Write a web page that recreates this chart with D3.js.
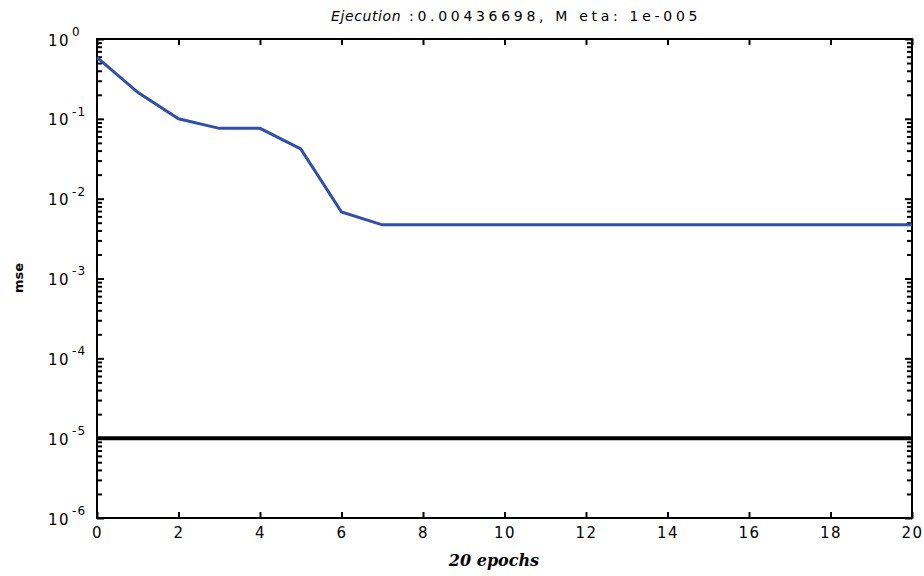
<!DOCTYPE html>
<html>
<head>
<meta charset="utf-8">
<script src="https://cdn.jsdelivr.net/npm/d3@7"></script>
<style>
    body { margin: 0; background: #fff; }
    svg { display: block; }
    .tick text { font-family: 'DejaVu Sans', sans-serif; font-size: 15px; letter-spacing: 1.5px; fill: #000; }
</style>
</head>
<body>
<div id="vis"></div>
<script>
const EPOCHS = [0, 1, 2, 3, 4, 5, 6, 7, 20]
const MSE = [0.59, 0.215, 0.1, 0.076, 0.076, 0.042, 0.0068, 0.0047, 0.0047]
const GOAL = 1e-5
const X_TICKS = [0, 2, 4, 6, 8, 10, 12, 14, 16, 18, 20]
const Y_DECADES = [0, -1, -2, -3, -4, -5, -6]
const TITLE_ITALIC = 'Ejecution'
const TITLE_REST = ':0.00436698, M eta: 1e-005'
const X_LABEL = '20 epochs'
const Y_LABEL = 'mse'

const W = 924, H = 576
const margin = {top: 39, right: 12, bottom: 58, left: 97}

let svg = d3.select('#vis')
    .append('svg')
    .attr('width', W)
    .attr('height', H)

let x = d3.scaleLinear()
    .domain([0, 20])
    .range([margin.left, W - margin.right])

let y = d3.scaleLog()
    .domain([1e-6, 1])
    .range([H - margin.bottom, margin.top])

// minor ticks of log axis
let minors = []
for (let d of Y_DECADES) {
    if (d === 0) continue
    for (let m = 2; m <= 9; m++) minors.push(m * Math.pow(10, d))
}

function styleAxis(g) {
    g.select('.domain').remove()
    g.selectAll('.tick line').attr('stroke', '#000').attr('stroke-width', 2)
}

// x axis bottom and top
svg.append('g')
    .attr('transform', `translate(0,${H - margin.bottom})`)
    .call(d3.axisBottom(x).tickValues(X_TICKS).tickSizeInner(-6).tickPadding(9).tickFormat(d3.format('d')))
    .call(styleAxis)

svg.append('g')
    .attr('transform', `translate(0,${margin.top})`)
    .call(d3.axisTop(x).tickValues(X_TICKS).tickSizeInner(-6).tickFormat(''))
    .call(styleAxis)

// y axis, major
let yLeft = svg.append('g')
    .attr('transform', `translate(${margin.left},0)`)
    .call(d3.axisLeft(y).tickValues(Y_DECADES.map(d => Math.pow(10, d))).tickSizeInner(-7).tickFormat(''))
    .call(styleAxis)

yLeft.selectAll('.tick').each(function (d) {
    let t = d3.select(this).append('text')
        .attr('x', -49)
        .attr('dy', '0.4em')
        .attr('text-anchor', 'start')
    t.append('tspan').text('10')
    t.append('tspan')
        .attr('dy', '-0.8em')
        .attr('dx', '2')
        .style('font-size', '12px')
        .style('letter-spacing', '1px')
        .text(Math.round(Math.log10(d)))
})

svg.append('g')
    .attr('transform', `translate(${W - margin.right},0)`)
    .call(d3.axisRight(y).tickValues(Y_DECADES.map(d => Math.pow(10, d))).tickSizeInner(-7).tickFormat(''))
    .call(styleAxis)

// y axis, minor
svg.append('g')
    .attr('transform', `translate(${margin.left},0)`)
    .call(d3.axisLeft(y).tickValues(minors).tickSizeInner(-5).tickFormat(''))
    .call(styleAxis)

svg.append('g')
    .attr('transform', `translate(${W - margin.right},0)`)
    .call(d3.axisRight(y).tickValues(minors).tickSizeInner(-5).tickFormat(''))
    .call(styleAxis)

// frame
svg.append('rect')
    .attr('x', margin.left)
    .attr('y', margin.top)
    .attr('width', W - margin.left - margin.right)
    .attr('height', H - margin.top - margin.bottom)
    .attr('fill', 'none')
    .attr('stroke', '#000')
    .attr('stroke-width', 2)

// goal line
svg.append('line')
    .attr('x1', x(0))
    .attr('x2', x(20))
    .attr('y1', y(GOAL))
    .attr('y2', y(GOAL))
    .attr('stroke', '#000')
    .attr('stroke-width', 4)

// training curve
let data = EPOCHS.map((e, i) => ({epoch: e, mse: MSE[i]}))
let line = d3.line()
    .x(d => x(d.epoch))
    .y(d => y(d.mse))

svg.append('path')
    .datum(data)
    .attr('d', line)
    .attr('fill', 'none')
    .attr('stroke', '#3050a8')
    .attr('stroke-width', 3)

// title
svg.append('text')
    .attr('x', 331)
    .attr('y', 21)
    .style('font-family', "'DejaVu Sans', sans-serif")
    .style('font-style', 'italic')
    .style('font-size', '14px')
    .style('letter-spacing', '0.6px')
    .text(TITLE_ITALIC)

svg.append('text')
    .attr('x', 409)
    .attr('y', 21)
    .style('font-family', "'DejaVu Sans', sans-serif")
    .style('font-size', '14px')
    .style('letter-spacing', '3.7px')
    .text(TITLE_REST)

// x label
svg.append('text')
    .attr('x', 494)
    .attr('y', 566)
    .attr('text-anchor', 'middle')
    .style('font-family', "'DejaVu Serif', serif")
    .style('font-weight', 'bold')
    .style('font-style', 'italic')
    .style('font-size', '16px')
    .text(X_LABEL)

// y label
svg.append('text')
    .attr('transform', `translate(23,278) rotate(-90)`)
    .attr('text-anchor', 'middle')
    .style('font-family', "'DejaVu Sans', sans-serif")
    .style('font-weight', 'bold')
    .style('font-size', '13px')
    .text(Y_LABEL)
</script>
</body>
</html>
